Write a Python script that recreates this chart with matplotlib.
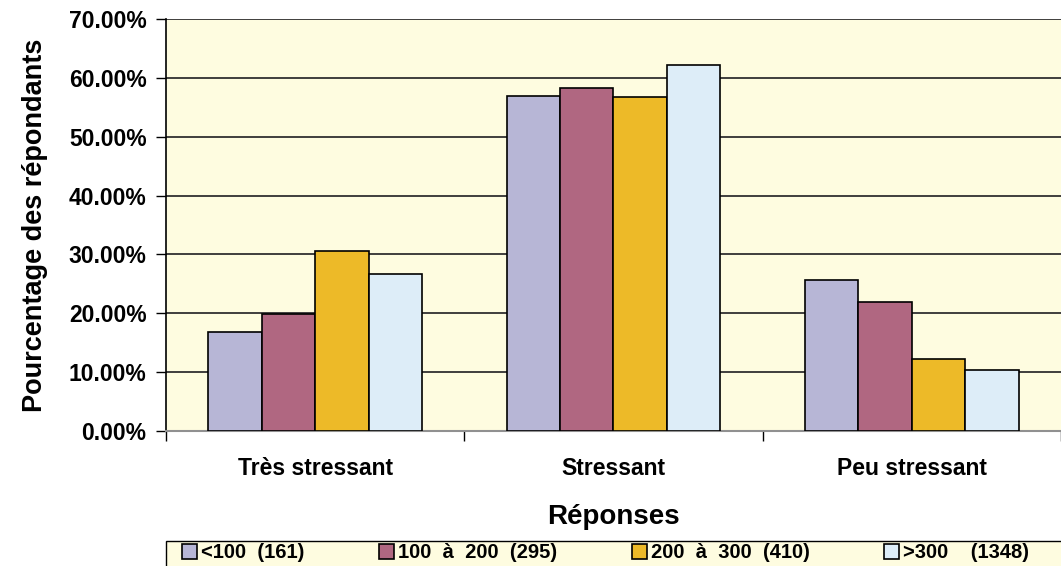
import matplotlib.pyplot as plt
from matplotlib.patches import Rectangle
import numpy as np

reponses = ["Très stressant", "Stressant", "Peu stressant"]
groupes = ["<100  (161)", "100  à  200  (295)", "200  à  300  (410)", ">300    (1348)"]
pct_moins_100 = [16.9, 57.0, 25.6]
pct_100_200 = [19.8, 58.2, 21.9]
pct_200_300 = [30.6, 56.7, 12.2]
pct_plus_300 = [26.7, 62.1, 10.4]
yticks = [0, 10, 20, 30, 40, 50, 60, 70]

series = [pct_moins_100, pct_100_200, pct_200_300, pct_plus_300]
couleurs = ["#B7B6D6", "#B06781", "#EDBA28", "#DDEDF8"]

plt.rcParams['font.family'] = ['Liberation Sans', 'DejaVu Sans']
plt.rcParams['font.weight'] = 'bold'

W, H = 1061, 566
fig = plt.figure(figsize=(W / 100, H / 100), dpi=100)
ax = fig.add_axes([166 / W, (H - 431) / H, 895 / W, 412 / H])
ax.set_facecolor("#FEFCE0")

x = np.arange(len(reponses))
w = 0.179
for i, (vals, c) in enumerate(zip(series, couleurs)):
    ax.bar(x + (i - 1.5) * w, vals, w, color=c, edgecolor="black",
           linewidth=1.2, label=groupes[i], zorder=3)

ax.set_xlim(-0.5, 2.5)
ax.set_ylim(0, 70)
ax.set_yticks(yticks)
ax.set_yticklabels(["%.2f%%" % v for v in yticks], fontsize=16.5, fontweight='bold')
ax.yaxis.grid(True, color="#303030", linewidth=1.3, zorder=1)
ax.set_xticks(x)
ax.set_xticklabels(reponses, fontsize=16.5, fontweight='bold')
ax.set_xticks([-0.5, 0.5, 1.5, 2.5], minor=True)
ax.tick_params(axis='x', which='major', length=0, pad=19)
ax.tick_params(axis='x', which='minor', length=7, width=1, direction='out')
ax.tick_params(axis='y', length=7, width=1, direction='out', pad=7)

for s in ["top", "right"]:
    ax.spines[s].set_visible(False)
ax.spines["left"].set_linewidth(1.2)
ax.spines["bottom"].set_color("#909090")
ax.spines["bottom"].set_linewidth(1.5)

ax.set_ylabel("Pourcentage des répondants", fontsize=19.5, fontweight='bold', labelpad=15)
ax.set_xlabel("Réponses", fontsize=20, fontweight='bold', labelpad=17)

# legend strip along the bottom: box drawn by hand, running off the edges
fig.add_artist(Rectangle((166 / W, -10 / H), 900 / W, 35 / H,
                         transform=fig.transFigure, facecolor="#FEFCE0",
                         edgecolor="black", linewidth=1.0, zorder=1))
leg = fig.legend(loc="center left", bbox_to_anchor=(182 / W, 13 / H),
                 ncol=4, frameon=False, fontsize=14.5,
                 handlelength=0.75, handleheight=0.75, handletextpad=0.2,
                 columnspacing=3.7, borderpad=0, borderaxespad=0)
leg.set_zorder(2)
for t in leg.get_texts():
    t.set_fontweight('bold')

fig.savefig("out.png", dpi=100)
